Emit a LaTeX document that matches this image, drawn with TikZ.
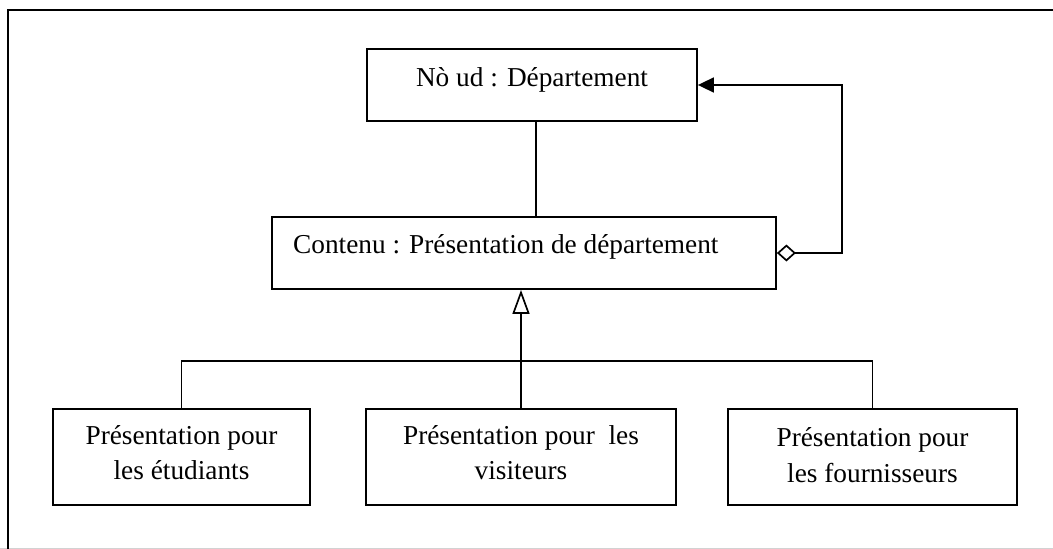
\documentclass[tikz,border=0pt]{standalone}
\usepackage{fontspec}
\setmainfont{Liberation Serif}
\usetikzlibrary{arrows.meta}
\begin{document}
\begin{tikzpicture}[x=1pt,y=-1pt,
  box/.style={draw, line width=1.8pt, rectangle, inner sep=0pt},
  lbl/.style={inner sep=0pt, font=\fontsize{27.3}{35.5}\selectfont, align=center, anchor=base},
  link/.style={line width=1.7pt}]
\useasboundingbox (0,0) rectangle (1053,549);
% outer frame
\draw[gray!35, line width=1pt] (0,548.5) -- (1053,548.5);
\draw[line width=2.6pt] (8,549) -- (8,10) -- (1053,10);

% classes
\node[box, minimum width=330pt, minimum height=72pt] (top) at (532,85) {};
\node[box, minimum width=504pt, minimum height=72pt] (mid) at (524,253) {};
\node[box, minimum width=257pt, minimum height=96pt] (b1) at (181.5,457) {};
\node[box, minimum width=310pt, minimum height=96pt] (b2) at (521,457) {};
\node[box, minimum width=289pt, minimum height=96pt] (b3) at (872.5,457) {};

% labels (base anchor sits on the last line of a two-line label)
\node[lbl] (topT) at (532,86) {Nò ud : Département};
\node[lbl, anchor=base west] (midT) at (293,253) {Contenu : Présentation de département};
\node[lbl] (b1T) at (181.5,479.5) {Présentation pour\\les étudiants};
\node[lbl] (b2T) at (521,479.5) {Présentation pour\ \ les\\visiteurs};
\node[lbl] (b3T) at (872.5,482) {Présentation pour\\les fournisseurs};

% association between department and content
\coordinate (assoc) at (536,0);
\draw[link] (top.south -| assoc) -- (mid.north -| assoc);

% aggregation loop
\coordinate (loop) at (842,0);
\draw[link, {Diamond[open,length=19pt,width=17pt]}-{Triangle[length=16pt,width=15pt]}]
  (mid.east) -- (mid.east -| loop) -- (top.east -| loop) -- (top.east);

% generalisation
\coordinate (bar) at (0,361);
\draw[link] (b1.north) -- (b1.north |- bar) -- (b3.north |- bar) -- (b3.north);
\draw[line width=2.3pt, -{Triangle[open,length=24pt,width=17pt,line width=1.7pt]}]
  (b2.north) -- (b2.north |- mid.south);
\end{tikzpicture}
\end{document}
